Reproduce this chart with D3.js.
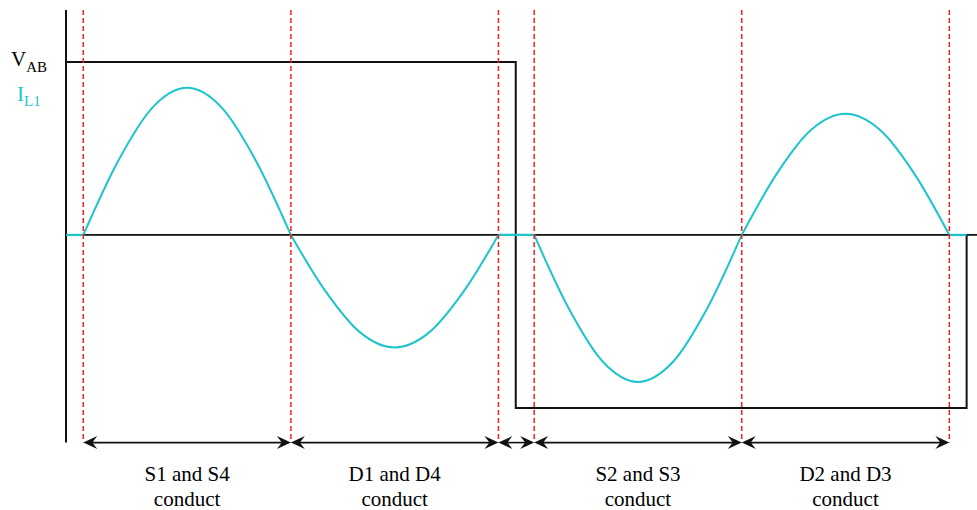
<!DOCTYPE html>
<html>
<head>
<meta charset="utf-8">
<script src="https://cdn.jsdelivr.net/npm/d3@7/dist/d3.min.js"></script>
<style>
  html, body { margin: 0; padding: 0; background: #ffffff; }
  svg { display: block; }
</style>
</head>
<body>
<svg id="chart" width="977" height="510"></svg>
<script>
// Switching instants (electrical degrees) that separate the conduction intervals
const boundaries = [0, 180, 360, 391, 571, 751];

// Bridge output voltage V_AB (normalised): square wave with the zero-voltage tail
const vabTimes  = [-15, 375, 375, 766, 766];
const vabValues = [1, 1, -1, -1, 0];

// Inductor current I_L1 samples (normalised), one lobe per conduction interval
const lobe1Times  = [0, 30, 60, 90, 120, 150, 180];
const lobe1Values = [0, 0.425, 0.736, 0.85, 0.736, 0.425, 0];
const lobe2Times  = [180, 210, 240, 270, 300, 330, 360];
const lobe2Values = [0, -0.325, -0.563, -0.65, -0.563, -0.325, 0];
const lobe3Times  = [391, 421, 451, 481, 511, 541, 571];
const lobe3Values = [0, -0.425, -0.736, -0.85, -0.736, -0.425, 0];
const lobe4Times  = [571, 601, 631, 661, 691, 721, 751];
const lobe4Values = [0, 0.35, 0.606, 0.70, 0.606, 0.35, 0];
// Idle stretches where the current stays at zero
const idleSpans = [[-15, 0], [360, 391], [751, 766]];

// Interval labels (two lines each) for the conduction intervals
const intervalLabels = [
  { from: 0,   to: 180, lines: ["S1 and S4", "conduct"] },
  { from: 180, to: 360, lines: ["D1 and D4", "conduct"] },
  { from: 391, to: 571, lines: ["S2 and S3", "conduct"] },
  { from: 571, to: 751, lines: ["D2 and D3", "conduct"] }
];

const TEAL = "#1cc5c9";
const FONT = "'Liberation Serif', 'Times New Roman', Times, serif";
const svg = d3.select("#chart");

const margin = { left: 66, right: 0, top: 10, bottom: 67.4 };
const W = 977, H = 510;

const x = d3.scaleLinear().domain([-15, 775]).range([margin.left, W - margin.right]);
const y = d3.scaleLinear().domain([-1.2, 1.3]).range([H - margin.bottom, margin.top]);

// Vertical axis
svg.append("line")
  .attr("x1", x(-15)).attr("x2", x(-15))
  .attr("y1", y(1.3)).attr("y2", y(-1.2))
  .attr("stroke", "#111").attr("stroke-width", 2);

// Horizontal zero line
svg.append("line")
  .attr("x1", x(-15)).attr("x2", x(775))
  .attr("y1", y(0)).attr("y2", y(0))
  .attr("stroke", "#111").attr("stroke-width", 1.8);

// V_AB square wave
const vabLine = d3.line().x(d => x(d[0])).y(d => y(d[1])).curve(d3.curveLinear);
svg.append("path")
  .datum(d3.zip(vabTimes, vabValues))
  .attr("d", vabLine)
  .attr("fill", "none").attr("stroke", "#111").attr("stroke-width", 2);

// Inductor current
const curLine = d3.line().x(d => x(d[0])).y(d => y(d[1])).curve(d3.curveMonotoneX);
const lobes = [
  d3.zip(lobe1Times, lobe1Values),
  d3.zip(lobe2Times, lobe2Values),
  d3.zip(lobe3Times, lobe3Values),
  d3.zip(lobe4Times, lobe4Values)
];
svg.selectAll("path.lobe").data(lobes).join("path")
  .attr("class", "lobe")
  .attr("d", curLine)
  .attr("fill", "none").attr("stroke", TEAL).attr("stroke-width", 2);
svg.selectAll("line.idle").data(idleSpans).join("line")
  .attr("class", "idle")
  .attr("x1", d => x(d[0])).attr("x2", d => x(d[1]))
  .attr("y1", y(0)).attr("y2", y(0))
  .attr("stroke", TEAL).attr("stroke-width", 2.2);

// Switching instants
svg.selectAll("line.instant").data(boundaries).join("line")
  .attr("class", "instant")
  .attr("x1", d => x(d)).attr("x2", d => x(d))
  .attr("y1", y(1.3)).attr("y2", y(-1.2))
  .attr("stroke", "#ff1a1a").attr("stroke-width", 1.5)
  .attr("stroke-dasharray", "5,3");

// Double-headed interval arrows along the bottom
const arrowY = y(-1.2);
const head = (tipX, dir) => {
  const L = 14, hw = 6.5, notch = 9;
  return `M${tipX},${arrowY}` +
    `L${tipX - dir * L},${arrowY - hw}` +
    `L${tipX - dir * notch},${arrowY}` +
    `L${tipX - dir * L},${arrowY + hw}Z`;
};
const spans = d3.pairs(boundaries);
const arrows = svg.append("g");
spans.forEach(([a, b]) => {
  const xa = x(a), xb = x(b);
  arrows.append("line")
    .attr("x1", xa + 4).attr("x2", xb - 4)
    .attr("y1", arrowY).attr("y2", arrowY)
    .attr("stroke", "#111").attr("stroke-width", 1.6);
  arrows.append("path").attr("d", head(xa, -1)).attr("fill", "#111");
  arrows.append("path").attr("d", head(xb, 1)).attr("fill", "#111");
});

// Interval labels
const lab = svg.selectAll("text.interval").data(intervalLabels).join("text")
  .attr("class", "interval")
  .attr("text-anchor", "middle")
  .attr("font-family", FONT)
  .attr("font-size", 21)
  .attr("fill", "#000");
lab.selectAll("tspan").data(d => d.lines.map(t => ({ t, cx: x((d.from + d.to) / 2) }))).join("tspan")
  .attr("x", d => d.cx)
  .attr("y", (d, i) => 481 + i * 25)
  .text(d => d.t);

// Signal names
const vLab = svg.append("text").attr("x", 11).attr("y", 65.5)
  .attr("font-family", FONT).attr("font-size", 21).attr("fill", "#000");
vLab.append("tspan").text("V");
vLab.append("tspan").attr("dy", 6).attr("font-size", 15).text("AB");

const iLab = svg.append("text").attr("x", 17).attr("y", 101)
  .attr("font-family", FONT).attr("font-size", 21).attr("fill", TEAL);
iLab.append("tspan").text("I");
iLab.append("tspan").attr("dy", 5).attr("font-size", 15).text("L1");
</script>
</body>
</html>
